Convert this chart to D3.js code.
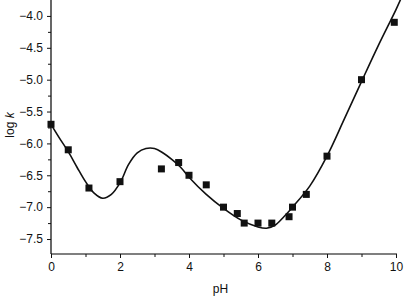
<!DOCTYPE html>
<html>
<head>
<meta charset="utf-8">
<script src="https://cdn.jsdelivr.net/npm/d3@7"></script>
<style>
  body { margin: 0; background: #fff; }
  svg { display: block; }
  text { font-family: "Liberation Sans", Arial, sans-serif; fill: #111; }
</style>
</head>
<body>
<div id="chart"></div>
<script>
// measured points (pH, log k)
let pointPH = [0, 0.5, 1.1, 2.0, 3.2, 3.7, 4.0, 4.5, 5.0, 5.4, 5.6, 6.0, 6.4, 6.9, 7.0, 7.4, 8.0, 9.0, 9.95];
let pointLogK = [-5.7, -6.1, -6.7, -6.6, -6.4, -6.3, -6.5, -6.65, -7.0, -7.1, -7.25, -7.25, -7.25, -7.15, -7.0, -6.8, -6.2, -5.0, -4.1];

// fitted curve
let curvePH = [0, 0.25, 0.5, 0.75, 1.0, 1.25, 1.5, 1.75, 2.0, 2.25, 2.5, 2.75, 3.0, 3.25, 3.5, 3.75, 4.0, 4.5, 5.0, 5.5, 6.0, 6.25, 6.5, 6.75, 7.0, 7.5, 8.0, 8.5, 9.0, 9.5, 10.0, 10.15];
let curveLogK = [-5.7, -5.92, -6.13, -6.37, -6.6, -6.78, -6.86, -6.8, -6.62, -6.33, -6.15, -6.08, -6.08, -6.15, -6.25, -6.37, -6.53, -6.8, -7.02, -7.2, -7.31, -7.33, -7.28, -7.15, -7.0, -6.67, -6.2, -5.62, -5.03, -4.45, -3.9, -3.72];

let xTicks = [0, 2, 4, 6, 8, 10];
let xMinor = [1, 3, 5, 7, 9];
let yTicks = [-4.0, -4.5, -5.0, -5.5, -6.0, -6.5, -7.0, -7.5];
let yMinor = [-4.25, -4.75, -5.25, -5.75, -6.25, -6.75, -7.25];

let width = 405, height = 297;
let mLeft = 51, mRight = 396, mTop = 0, mBottom = 254;

let svg = d3.select("#chart")
    .append("svg")
    .attr("width", width)
    .attr("height", height);

let x = d3.scaleLinear().domain([0, 10]).range([mLeft, mRight]);
let y = d3.scaleLinear().domain([-7.735, -3.75]).range([mBottom, mTop]);

let fmt = function(d) { return d3.format(".1f")(d).replace("-", "\u2212"); };

// x axis
let xAxis = svg.append("g")
    .attr("transform", "translate(0," + mBottom + ")")
    .call(d3.axisBottom(x).tickValues(xTicks).tickSize(4).tickPadding(4).tickFormat(d3.format("d")));
xAxis.select(".domain").attr("d", "M" + mLeft + ",0H" + (mRight + 1)).attr("stroke-width", 1.2);
xAxis.selectAll("text").attr("font-size", 12);
svg.append("g")
    .attr("transform", "translate(0," + mBottom + ")")
    .call(d3.axisBottom(x).tickValues(xMinor).tickSize(3).tickFormat(""))
    .select(".domain").remove();

// y axis
let yAxis = svg.append("g")
    .attr("transform", "translate(" + mLeft + ",0)")
    .call(d3.axisLeft(y).tickValues(yTicks).tickSize(4).tickPadding(4).tickFormat(fmt));
yAxis.select(".domain").attr("d", "M0," + mTop + "V" + mBottom).attr("stroke-width", 1.2);
yAxis.selectAll("text").attr("font-size", 12);
svg.append("g")
    .attr("transform", "translate(" + mLeft + ",0)")
    .call(d3.axisLeft(y).tickValues(yMinor).tickSize(3).tickFormat(""))
    .select(".domain").remove();

svg.selectAll(".tick line").attr("stroke", "#111");

// axis titles
svg.append("text")
    .attr("x", (mLeft + mRight) / 2 - 3)
    .attr("y", 293)
    .attr("text-anchor", "middle")
    .attr("font-size", 12)
    .text("pH");

let yTitle = svg.append("text")
    .attr("transform", "translate(14,125) rotate(-90)")
    .attr("text-anchor", "middle")
    .attr("font-size", 12);
yTitle.append("tspan").text("log ");
yTitle.append("tspan").attr("font-style", "italic").text("k");

// fitted curve
let line = d3.line()
    .x(function(d) { return x(d[0]); })
    .y(function(d) { return y(d[1]); })
    .curve(d3.curveCatmullRom);

svg.append("path")
    .datum(d3.zip(curvePH, curveLogK))
    .attr("d", line)
    .attr("fill", "none")
    .attr("stroke", "#111")
    .attr("stroke-width", 1.6);

// data squares
let s = 7;
svg.selectAll(".pt")
    .data(d3.zip(pointPH, pointLogK))
    .enter().append("rect")
    .attr("class", "pt")
    .attr("x", function(d) { return x(d[0]) - s / 2; })
    .attr("y", function(d) { return y(d[1]) - s / 2; })
    .attr("width", s)
    .attr("height", s)
    .attr("fill", "#111");
</script>
</body>
</html>
